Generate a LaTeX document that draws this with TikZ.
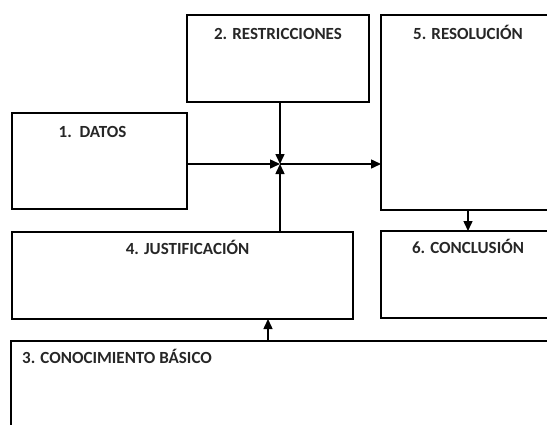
\documentclass[tikz,border=0pt]{standalone}
\usepackage{fontspec}
\setmainfont{Carlito}
\usetikzlibrary{arrows.meta,positioning}
\tikzset{
  box/.style={draw, line width=1.6pt, anchor=north west, inner sep=0pt, outer sep=0pt},
  title/.style={font=\bfseries\fontsize{17}{20}\selectfont, text=black!85, anchor=base, inner sep=0pt},
  arr/.style={line width=1.5pt, -{Triangle[length=10pt,width=9pt]}},
}
\begin{document}
\begin{tikzpicture}[x=1pt,y=-1pt]
\useasboundingbox (0,0) rectangle (547,424);
% cajas
\node[box, minimum width=182pt, minimum height=87pt] (restr) at (187,15) {};
\node[box, minimum width=174pt, minimum height=195pt] (resol) at (381,15) {};
\node[box, minimum width=175pt, minimum height=96pt] (datos) at (12,113) {};
\node[box, minimum width=341pt, minimum height=87pt] (just) at (12,232) {};
\node[box, minimum width=174pt, minimum height=87pt] (concl) at (381,231) {};
\node[box, minimum width=544pt, minimum height=120pt] (conoc) at (11,341) {};
% titulos
\node[title] (restrT) at ([yshift=-24pt]restr.north) {2. RESTRICCIONES};
\node[title] (resolT) at ([yshift=-24pt]resol.north) {5. RESOLUCIÓN};
\node[title] (datosT) at ([xshift=-7pt,yshift=-24pt]datos.north) {1.\ \ DATOS};
\node[title] (justT) at ([xshift=5pt,yshift=-22pt]just.north) {4. JUSTIFICACIÓN};
\node[title] (conclT) at ([yshift=-22pt]concl.north) {6. CONCLUSIÓN};
\node[title, anchor=base west] (conocT) at ([xshift=11pt,yshift=-22pt]conoc.north west) {3. CONOCIMIENTO BÁSICO};
% flechas
\coordinate (jn) at (280,164);
\coordinate (kb) at (268,330);
\draw[arr] (datos.east |- jn) -- (jn);
\draw[arr] (restr.south -| jn) -- (jn);
\draw[arr] (just.north -| jn) -- (jn);
\draw[arr] (jn) -- (resol.west |- jn);
\draw[arr] (resol.south) -- (concl.north);
\draw[arr] (conoc.north -| kb) -- (just.south -| kb);
\end{tikzpicture}
\end{document}
